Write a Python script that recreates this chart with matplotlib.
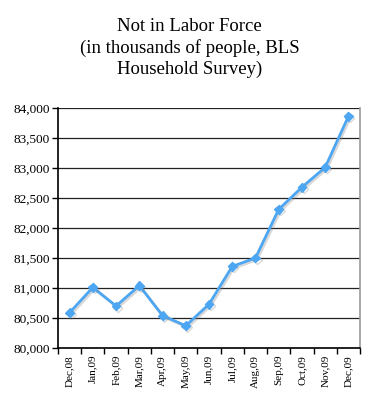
import matplotlib
matplotlib.use("Agg")
import matplotlib.pyplot as plt
import matplotlib.patheffects as pe
from matplotlib.ticker import FuncFormatter, FixedLocator

months = ["Dec,08", "Jan,09", "Feb,09", "Mar,09", "Apr,09", "May,09", "Jun,09",
          "Jul,09", "Aug,09", "Sep,09", "Oct,09", "Nov,09", "Dec,09"]
values = [80590, 81010, 80700, 81040, 80540, 80370, 80730,
          81360, 81500, 82310, 82680, 83010, 83860]
title = "Not in Labor Force\n(in thousands of people, BLS\nHousehold Survey)"

plt.rcParams['font.family'] = ['Liberation Serif', 'DejaVu Serif']

fig = plt.figure(figsize=(3.79, 4.0), dpi=100)
ax = fig.add_axes([58/379, 1-348/400, (360-58)/379, 240/400])

x = list(range(len(months)))
ax.plot(x, values, color='#4DA6F2', lw=2, marker='D', ms=4.5,
        markeredgecolor='#4DA6F2', zorder=3,
        path_effects=[pe.SimpleLineShadow(offset=(1.2, -1.2), shadow_color='gray', alpha=0.3), pe.Normal()])

ax.set_xlim(-0.5, len(months)-0.5)
ax.set_ylim(80000, 84000)
ax.set_yticks(range(80000, 84001, 500))
ax.yaxis.set_major_formatter(FuncFormatter(lambda v, p: f"{int(v):,}"))
ax.grid(axis='y', color='#222222', lw=0.9)
ax.set_axisbelow(True)

ax.set_xticks(x)
ax.set_xticklabels(months, rotation=90, fontsize=8)
ax.xaxis.set_minor_locator(FixedLocator([i-0.5 for i in range(len(months)+1)]))
ax.tick_params(axis='x', which='major', length=0, pad=5)
ax.tick_params(axis='x', which='minor', length=4, direction='out', width=1)
ax.tick_params(axis='y', labelsize=9.5, length=4, direction='out', width=1, pad=2)

for s in ['left', 'bottom']:
    ax.spines[s].set_color('black')
    ax.spines[s].set_linewidth(1.2)
ax.spines['right'].set_color('#999999')
ax.spines['right'].set_linewidth(1.2)
ax.spines['top'].set_visible(False)

fig.text(0.5, 1-48/400, title, ha='center', va='center', fontsize=13.5, linespacing=1.3)

fig.savefig("out.png", dpi=100)
